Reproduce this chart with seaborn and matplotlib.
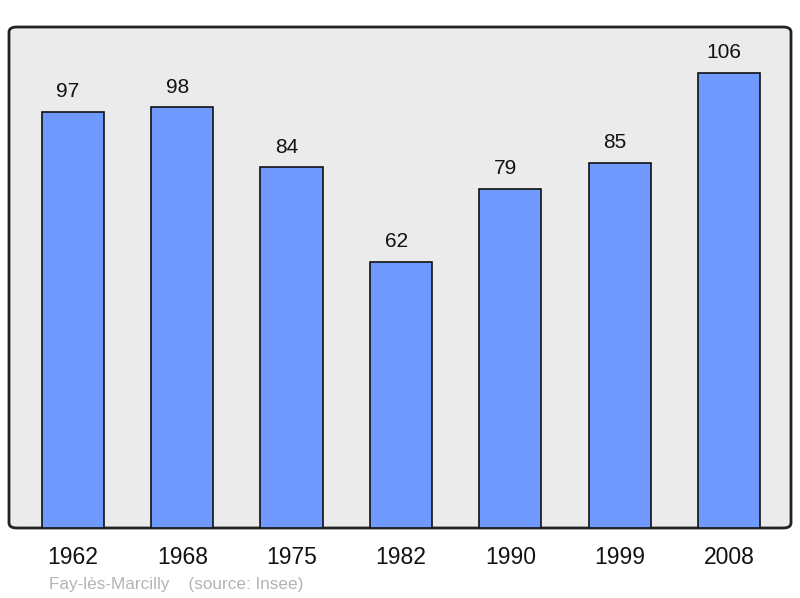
import matplotlib
matplotlib.use('Agg')
import matplotlib.pyplot as plt
from matplotlib.patches import FancyBboxPatch
import seaborn as sns
import pandas as pd

years = ['1962', '1968', '1975', '1982', '1990', '1999', '2008']
population = [97, 98, 84, 62, 79, 85, 106]

sns.set_theme(style='white')
plt.rcParams['font.family'] = ['Liberation Sans', 'DejaVu Sans']

df = pd.DataFrame({'year': years, 'pop': population})

fig = plt.figure(figsize=(8, 5.98), dpi=100)
ax = fig.add_axes([9 / 800, 1 - 528 / 598, 782 / 800, 501 / 598])

# rounded frame behind the bars
frame = FancyBboxPatch((0, 0), 1, 1,
                       boxstyle='round,pad=0,rounding_size=0.01',
                       transform=ax.transAxes, facecolor='#ebebeb',
                       edgecolor='#222222', linewidth=2, zorder=0,
                       clip_on=False)
ax.add_patch(frame)
ax.patch.set_visible(False)
for s in ax.spines.values():
    s.set_visible(False)

sns.barplot(data=df, x='year', y='pop', color='#7099ff', saturation=1,
            width=0.57, edgecolor='#111111', linewidth=1.2, ax=ax, zorder=2)

# value labels sit a bit left of the bar centre in the original
for i, v in enumerate(population):
    ax.text(i - 0.045, v + 2.5, str(v), ha='center', va='bottom', fontsize=15, color='#111111')

ax.set_xlim(-0.585, 6.567)
ax.set_ylim(0, 116.7)
ax.set_yticks([])
ax.set_xlabel('')
ax.set_ylabel('')
ax.tick_params(axis='x', length=0, pad=13, labelsize=16.5, labelcolor='#111111')

fig.text(49 / 800, 1 - 584 / 598, 'Fay-lès-Marcilly    (source: Insee)',
         fontsize=12.3, color='#b4b4b4', va='center', ha='left')

fig.savefig('out.png', dpi=100)
